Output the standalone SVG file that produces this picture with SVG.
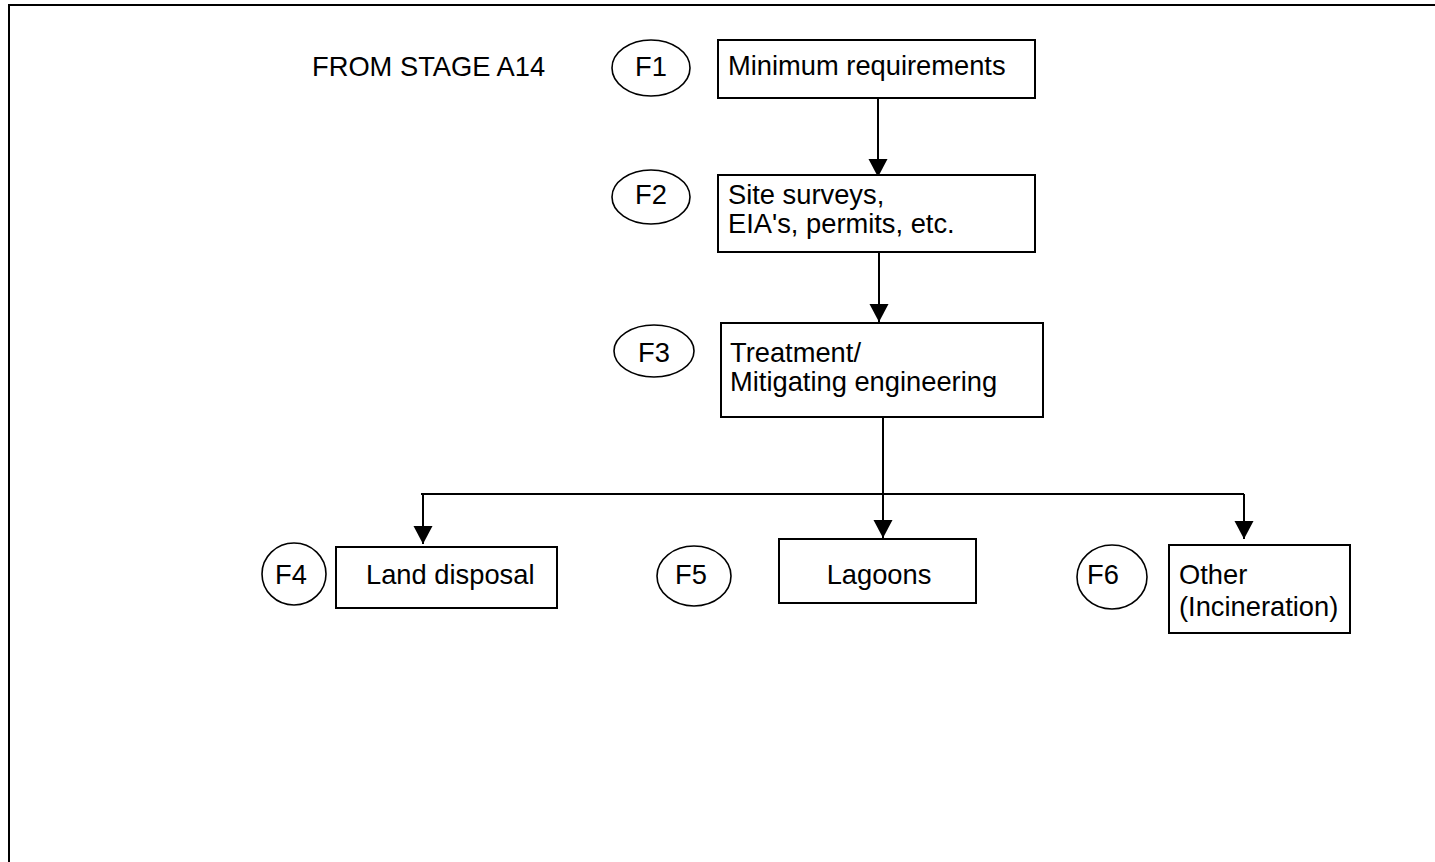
<svg xmlns="http://www.w3.org/2000/svg" width="1435" height="862" viewBox="0 0 1435 862">
<style>
.box{fill:#fff;stroke:#000;stroke-width:2}
.ell{fill:#fff;stroke:#000;stroke-width:1.6}
.t{font-family:"Liberation Sans",Arial,sans-serif;font-size:27.3px;fill:#000}
.c{text-anchor:middle}
.ln{fill:none;stroke:#000;stroke-width:2}
</style>
<defs>
<marker id="ah" markerUnits="userSpaceOnUse" markerWidth="20" markerHeight="20" viewBox="0 0 20 20" refX="18" refY="10" orient="auto">
<path d="M0,0.5 L18,10 L0,19.5 Z" fill="#000"/>
</marker>
</defs>
<rect width="1435" height="862" fill="#fff"/>
<path d="M9,862 V5 H1435" fill="none" stroke="#000" stroke-width="2"/>
<text class="t" x="312" y="76">FROM STAGE A14</text>
<g id="connectors">
<path class="ln" d="M878,98 V177" marker-end="url(#ah)"/>
<path class="ln" d="M879,252 V322" marker-end="url(#ah)"/>
<path class="ln" d="M883,417 V538" marker-end="url(#ah)"/>
<path class="ln" d="M421,494 H1244"/>
<path class="ln" d="M423,494 V544" marker-end="url(#ah)"/>
<path class="ln" d="M1244,494 V539" marker-end="url(#ah)"/>
</g>
<g id="F1">
<ellipse class="ell" cx="651" cy="68" rx="39" ry="28"/>
<text class="t c" x="651" y="76">F1</text>
</g>
<g id="n1">
<rect class="box" x="718" y="40" width="317" height="58"/>
<text class="t" x="728" y="75">Minimum requirements</text>
</g>
<g id="F2">
<ellipse class="ell" cx="651" cy="197" rx="39" ry="27"/>
<text class="t c" x="651" y="204">F2</text>
</g>
<g id="n2">
<rect class="box" x="718" y="175" width="317" height="77"/>
<text class="t" x="728" y="204">Site surveys,</text>
<text class="t" x="728" y="233">EIA's, permits, etc.</text>
</g>
<g id="F3">
<ellipse class="ell" cx="654" cy="351" rx="40" ry="26"/>
<text class="t c" x="654" y="362">F3</text>
</g>
<g id="n3">
<rect class="box" x="721" y="323" width="322" height="94"/>
<text class="t" x="730" y="362">Treatment/</text>
<text class="t" x="730" y="391">Mitigating engineering</text>
</g>
<g id="F4">
<ellipse class="ell" cx="294" cy="574" rx="32" ry="31"/>
<text class="t c" x="291" y="584">F4</text>
</g>
<g id="n4">
<rect class="box" x="336" y="547" width="221" height="61"/>
<text class="t" x="366" y="584">Land disposal</text>
</g>
<g id="F5">
<ellipse class="ell" cx="694" cy="576" rx="37" ry="30"/>
<text class="t c" x="691" y="584">F5</text>
</g>
<g id="n5">
<rect class="box" x="779" y="539" width="197" height="64"/>
<text class="t c" x="879" y="584">Lagoons</text>
</g>
<g id="F6">
<ellipse class="ell" cx="1112" cy="577" rx="35" ry="32"/>
<text class="t c" x="1103" y="584">F6</text>
</g>
<g id="n6">
<rect class="box" x="1169" y="545" width="181" height="88"/>
<text class="t" x="1179" y="584">Other</text>
<text class="t" x="1179" y="616">(Incineration)</text>
</g>
</svg>
